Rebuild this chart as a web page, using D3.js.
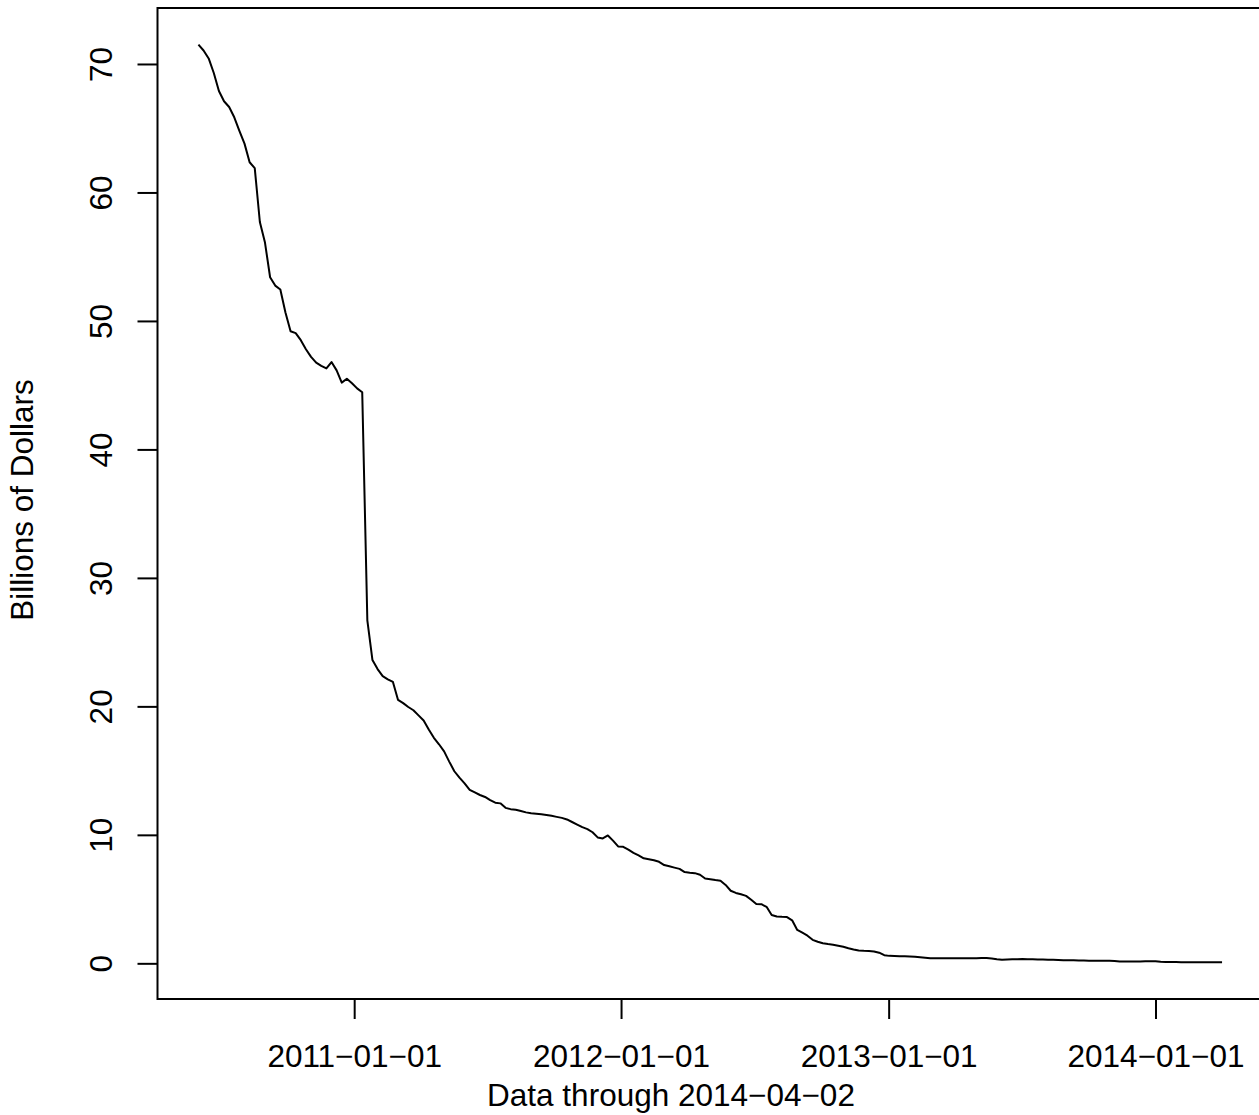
<!DOCTYPE html>
<html>
<head>
<meta charset="utf-8">
<script src="https://cdn.jsdelivr.net/npm/d3@7"></script>
<style>
  html, body { margin: 0; padding: 0; background: #ffffff; }
  svg { display: block; }
  text { font-family: "Liberation Sans", Arial, Helvetica, sans-serif; fill: #000; }
</style>
</head>
<body>
<svg id="chart" width="1259" height="1115"></svg>
<script>
// ---- data (weekly, Wednesdays, 2010-06-02 .. 2014-04-02), billions of dollars ----
const startDate = "2010-06-02";
const endDate = "2014-04-02";
const values = [
  71.5, 71.05, 70.43, 69.3, 67.9, 67.1, 66.65, 65.85, 64.8, 63.8,
  62.35, 61.9, 57.7, 56.1, 53.4, 52.75, 52.45, 50.65, 49.2, 49.05,
  48.5, 47.8, 47.2, 46.75, 46.5, 46.3, 46.8, 46.15, 45.2, 45.5,
  45.15, 44.75, 44.45, 26.7, 23.6, 22.9, 22.35, 22.1, 21.9, 20.5,
  20.25, 19.95, 19.7, 19.3, 18.9, 18.2, 17.55, 17.05, 16.5, 15.7,
  14.95, 14.45, 14.0, 13.5, 13.3, 13.1, 12.95, 12.7, 12.5, 12.45,
  12.1, 12.0, 11.95, 11.86, 11.75, 11.68, 11.65, 11.6, 11.55, 11.48,
  11.4, 11.32, 11.2, 11.0, 10.8, 10.6, 10.45, 10.2, 9.8, 9.72,
  9.95, 9.55, 9.1, 9.07, 8.85, 8.6, 8.4, 8.17, 8.1, 8.02,
  7.9, 7.65, 7.55, 7.45, 7.35, 7.1, 7.05, 7.02, 6.9, 6.6,
  6.55, 6.48, 6.42, 6.1, 5.65, 5.48, 5.38, 5.25, 4.95, 4.62,
  4.6, 4.4, 3.76, 3.65, 3.62, 3.6, 3.35, 2.6, 2.38, 2.15,
  1.83, 1.68, 1.56, 1.5, 1.45, 1.37, 1.29, 1.18, 1.08, 1.0,
  0.97, 0.95, 0.92, 0.83, 0.63, 0.58, 0.57, 0.56, 0.55, 0.54,
  0.51, 0.47, 0.43, 0.39, 0.39, 0.39, 0.39, 0.39, 0.39, 0.39,
  0.39, 0.4, 0.4, 0.41, 0.41, 0.38, 0.32, 0.28, 0.3, 0.31,
  0.32, 0.33, 0.32, 0.31, 0.3, 0.29, 0.28, 0.27, 0.26, 0.24,
  0.23, 0.23, 0.22, 0.22, 0.21, 0.21, 0.2, 0.2, 0.2, 0.19,
  0.15, 0.15, 0.15, 0.15, 0.15, 0.16, 0.16, 0.16, 0.12, 0.1,
  0.1, 0.1, 0.09, 0.09, 0.09, 0.09, 0.08, 0.08, 0.08, 0.08,
  0.08
];
const yTicks = [0, 10, 20, 30, 40, 50, 60, 70];
const xTickDates = ["2011-01-01", "2012-01-01", "2013-01-01", "2014-01-01"];
const xTitle = "Data through " + endDate.replace(/-/g, "\u2212");
const yTitle = "Billions of Dollars";

// ---- build the series ----
const parse = d3.utcParse("%Y-%m-%d");
const t0 = parse(startDate);
const series = values.map((v, i) => ({ date: d3.utcDay.offset(t0, 7 * i), value: v }));

// ---- layout ----
const svg = d3.select("#chart");
const plot = { left: 157.5, top: 8, right: 1263, bottom: 999 };
const FS = 31.5;

// R-style 4% extension of ranges
const tMin = series[0].date, tMax = series[series.length - 1].date;
const tPad = (tMax - tMin) * 0.04;
const x = d3.scaleUtc()
  .domain([new Date(+tMin - tPad), new Date(+tMax + tPad)])
  .range([plot.left, plot.right]);

const vMin = d3.min(values), vMax = d3.max(values);
const vPad = (vMax - vMin) * 0.04;
const y = d3.scaleLinear()
  .domain([vMin - vPad, vMax + vPad])
  .range([plot.bottom, plot.top]);

// ---- line ----
const line = d3.line().x(d => x(d.date)).y(d => y(d.value));
svg.append("path")
  .datum(series)
  .attr("d", line)
  .attr("fill", "none")
  .attr("stroke", "#000")
  .attr("stroke-width", 2)
  .attr("stroke-linejoin", "round");

// ---- box ----
svg.append("rect")
  .attr("x", plot.left).attr("y", plot.top)
  .attr("width", plot.right - plot.left).attr("height", plot.bottom - plot.top)
  .attr("fill", "none").attr("stroke", "#000").attr("stroke-width", 2);

// ---- x axis ----
const xAxis = d3.axisBottom(x)
  .tickValues(xTickDates.map(parse))
  .tickSize(20)
  .tickPadding(0)
  .tickFormat(() => "");
const gx = svg.append("g").attr("transform", `translate(0,${plot.bottom})`).call(xAxis);
gx.select(".domain").remove();
gx.selectAll(".tick line").attr("stroke", "#000").attr("stroke-width", 2);
gx.selectAll(".tick").append("text")
  .attr("x", 0).attr("y", 68)
  .attr("text-anchor", "middle")
  .attr("fill", "#000")
  .style("font-size", FS + "px")
  .text((d, i) => xTickDates[i].replace(/-/g, "\u2212"));

// ---- y axis ----
const yAxis = d3.axisLeft(y)
  .tickValues(yTicks)
  .tickSize(20)
  .tickFormat(() => "");
const gy = svg.append("g").attr("transform", `translate(${plot.left},0)`).call(yAxis);
gy.select(".domain").remove();
gy.selectAll(".tick line").attr("stroke", "#000").attr("stroke-width", 2);
gy.selectAll(".tick").append("text")
  .attr("transform", "translate(-45.5,0) rotate(-90)")
  .attr("text-anchor", "middle")
  .attr("fill", "#000")
  .style("font-size", FS + "px")
  .text(d => d);

// ---- titles ----
svg.append("text")
  .attr("x", 671).attr("y", 1106)
  .attr("text-anchor", "middle")
  .style("font-size", FS + "px")
  .text(xTitle);

svg.append("text")
  .attr("transform", "translate(33,500) rotate(-90)")
  .attr("text-anchor", "middle")
  .style("font-size", FS + "px")
  .text(yTitle);
</script>
</body>
</html>
